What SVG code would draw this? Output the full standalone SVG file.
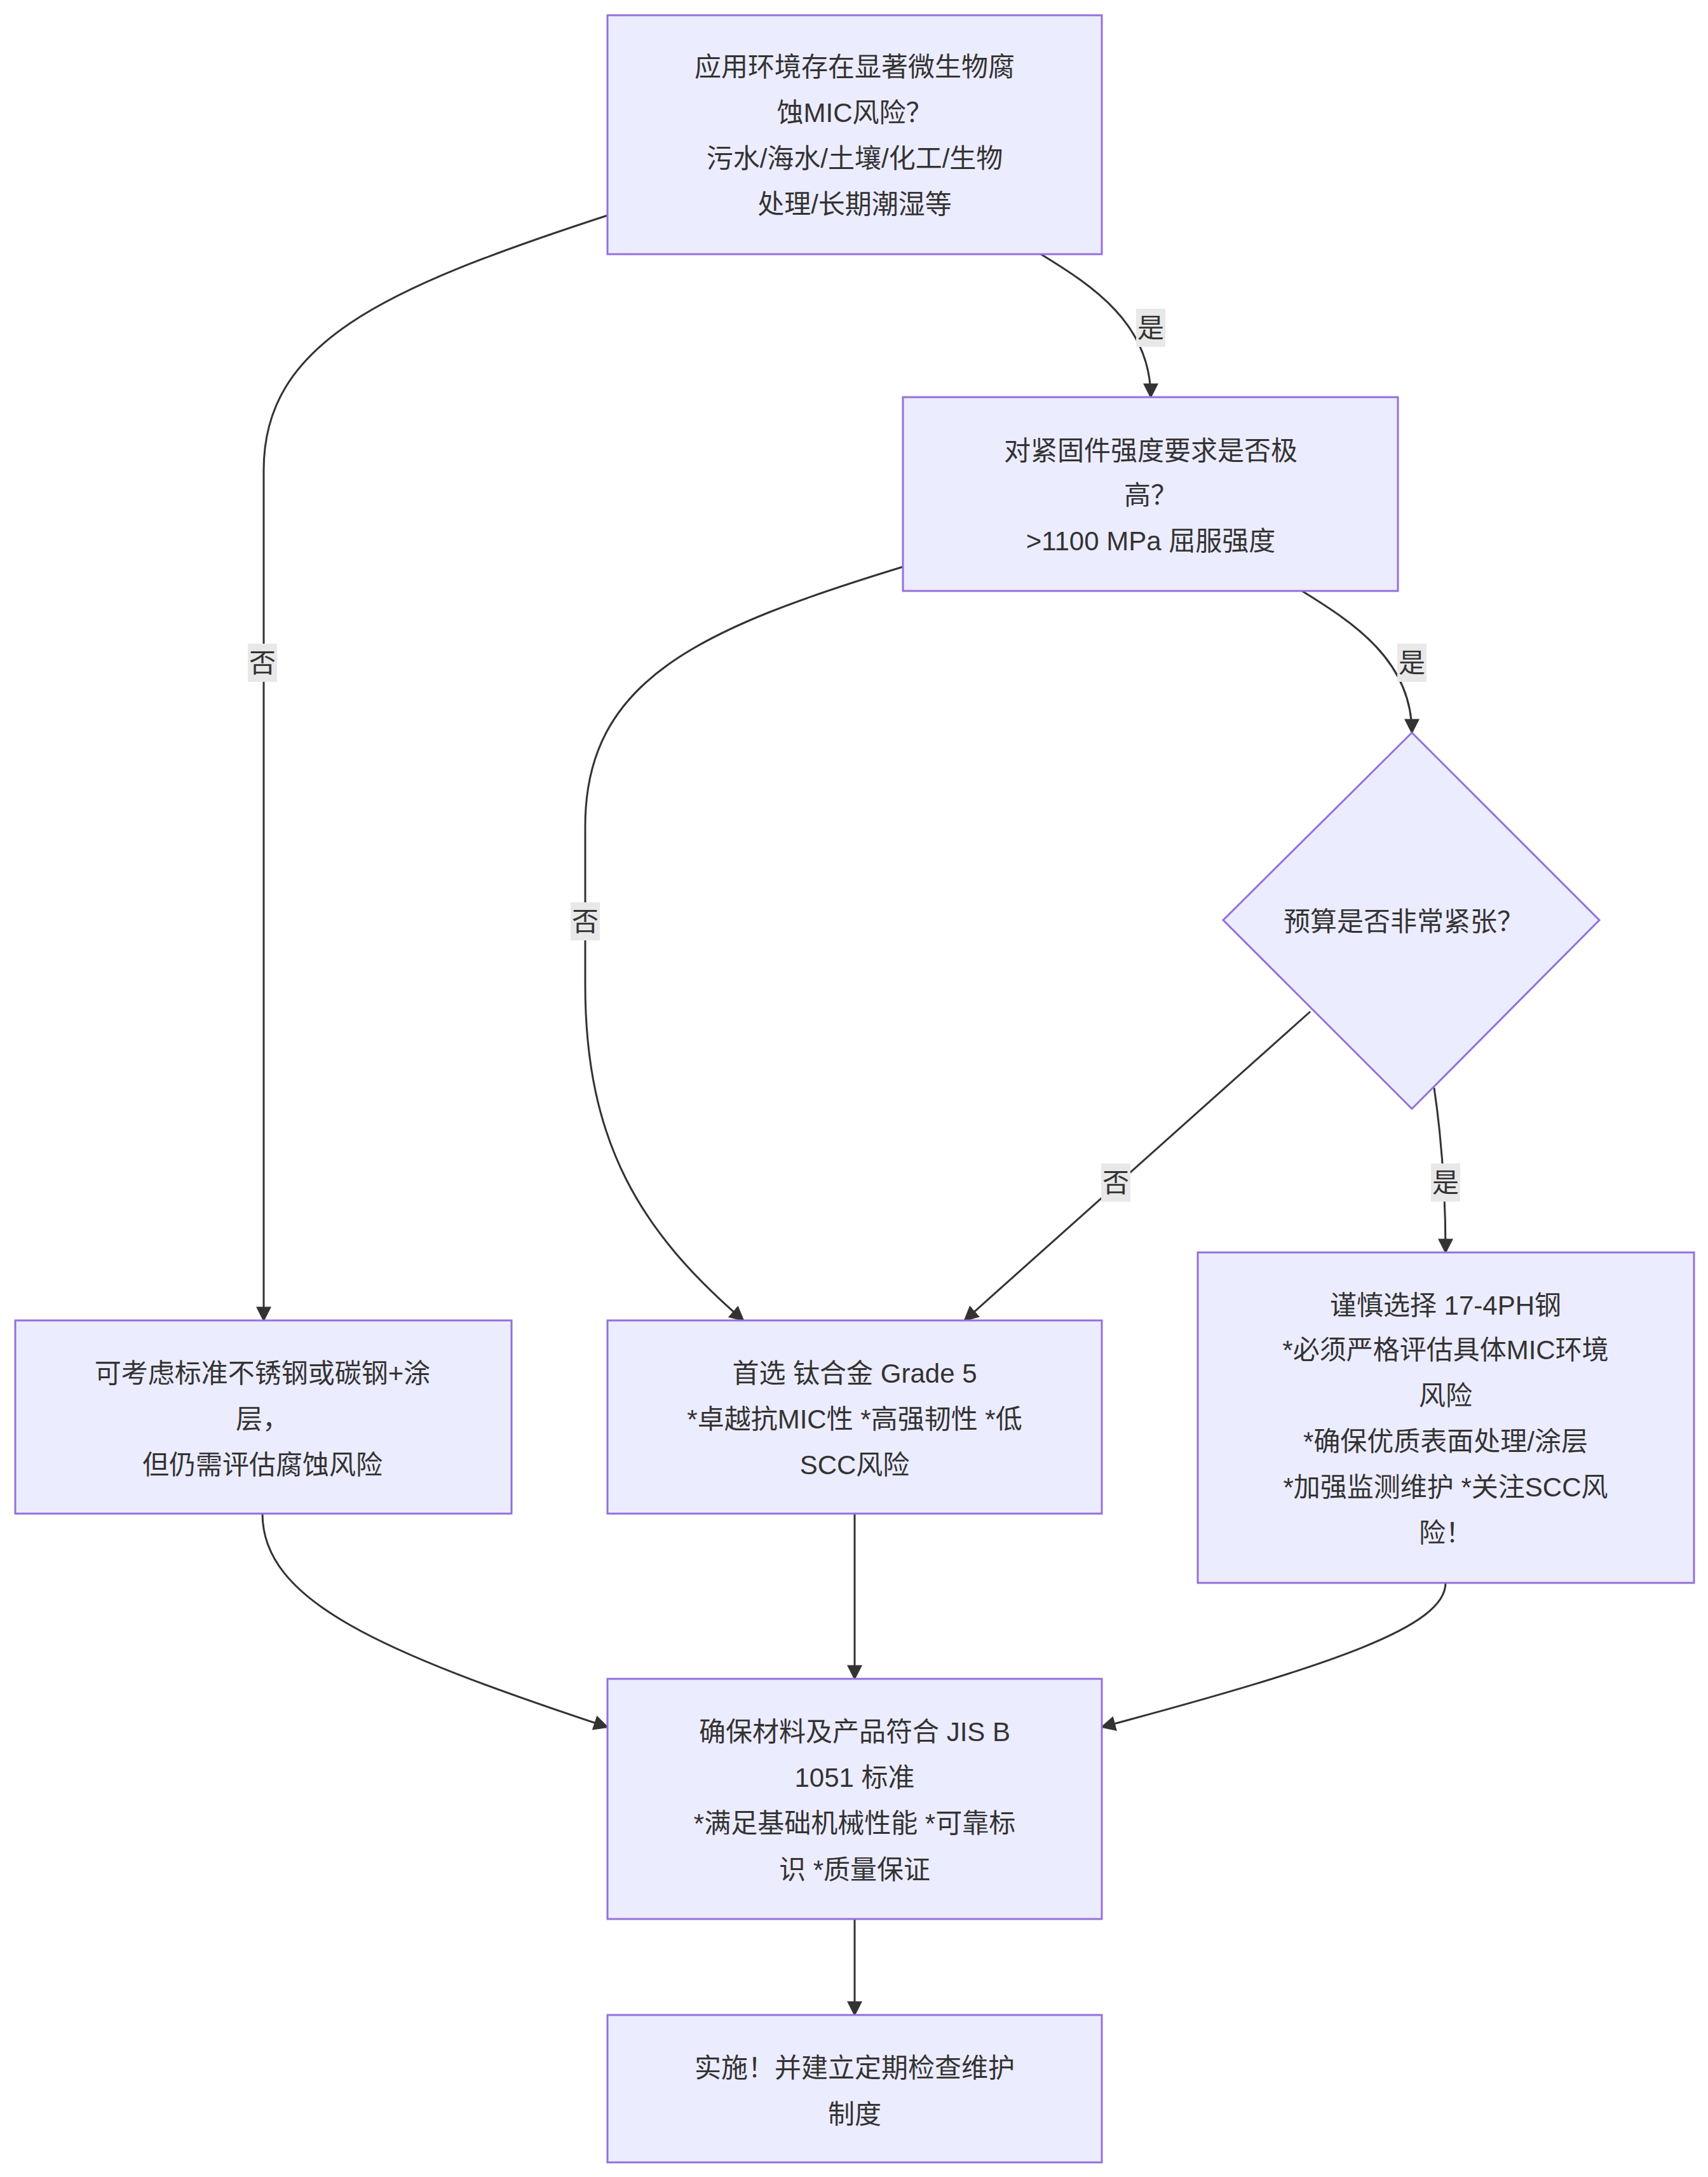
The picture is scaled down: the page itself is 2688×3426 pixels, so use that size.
<svg xmlns="http://www.w3.org/2000/svg" width="2688" height="3426" viewBox="0 0 2688 3426">
<style>
.n{fill:#ECECFF;stroke:#9370DB;stroke-width:3}
.t{font-family:"Liberation Sans","Noto Sans CJK SC",sans-serif;font-size:42px;fill:#333;text-anchor:middle;dominant-baseline:central}
.e{fill:none;stroke:#333;stroke-width:3;marker-end:url(#a)}
.lb{fill:#e8e8e8}
</style>
<defs><marker id="a" viewBox="0 0 10 10" refX="9" refY="5" markerWidth="8" markerHeight="8" markerUnits="userSpaceOnUse" orient="auto"><path d="M0,0L10,5L0,10z" fill="#333"/></marker>
<marker id="a2" viewBox="0 0 10 10" refX="9" refY="5" markerWidth="8" markerHeight="8" orient="auto"><path d="M0,0L10,5L0,10z" fill="#333"/></marker></defs>
<rect width="2688" height="3426" fill="#fff"/>
<g id="edges">
<path class="e" style="marker-end:url(#a2)" d="M1638,400 C1720,450 1811,510 1811,625"/>
<path class="e" style="marker-end:url(#a2)" d="M956,339 C600,455 415,540 415,740 L415,2078"/>
<path class="e" style="marker-end:url(#a2)" d="M2049,930 C2130,980 2222,1040 2222,1153"/>
<path class="e" style="marker-end:url(#a2)" d="M1421,892 C1100,990 921,1070 921,1300 L921,1550 C921,1800 1010,1940 1170,2078"/>
<path class="e" style="marker-end:url(#a2)" d="M2062,1592 L1518,2078"/>
<path class="e" style="marker-end:url(#a2)" d="M2257,1712 C2270,1800 2275,1880 2275,1971"/>
<path class="e" style="marker-end:url(#a2)" d="M413,2382 C413,2520 600,2600 956,2718"/>
<path class="e" style="marker-end:url(#a2)" d="M1345,2382 L1345,2642"/>
<path class="e" style="marker-end:url(#a2)" d="M2275,2491 C2275,2560 2100,2620 1734,2718"/>
<path class="e" style="marker-end:url(#a2)" d="M1345,3020 L1345,3171"/>
<rect class="lb" x="1788" y="486" width="46" height="60"/><text class="t" x="1811" y="516">是</text>
<rect class="lb" x="390" y="1013" width="46" height="60"/><text class="t" x="413" y="1043">否</text>
<rect class="lb" x="2199" y="1013" width="46" height="60"/><text class="t" x="2222" y="1043">是</text>
<rect class="lb" x="898" y="1420" width="46" height="60"/><text class="t" x="921" y="1450">否</text>
<rect class="lb" x="1733" y="1831" width="46" height="60"/><text class="t" x="1756" y="1861">否</text>
<rect class="lb" x="2252" y="1831" width="46" height="60"/><text class="t" x="2275" y="1861">是</text>
</g>
<g id="A"><rect class="n" x="956" y="24" width="778" height="376"/>
<text class="t" x="1345" y="105">应用环境存在显著微生物腐</text><text class="t" x="1345" y="177">蚀MIC风险？</text><text class="t" x="1345" y="249">污水/海水/土壤/化工/生物</text><text class="t" x="1345" y="321">处理/长期潮湿等</text></g>
<g id="B"><rect class="n" x="1421" y="625" width="779" height="305"/>
<text class="t" x="1811" y="709">对紧固件强度要求是否极</text><text class="t" x="1811" y="779">高？</text><text class="t" x="1811" y="851">&gt;1100 MPa 屈服强度</text></g>
<g id="C"><polygon class="n" points="2222,1153 2517,1448 2222,1745 1925,1448"/>
<text class="t" x="2209" y="1450">预算是否非常紧张？</text></g>
<g id="D"><rect class="n" x="24" y="2078" width="781" height="304"/>
<text class="t" x="413" y="2161">可考虑标准不锈钢或碳钢+涂</text><text class="t" x="413" y="2233">层，</text><text class="t" x="413" y="2305">但仍需评估腐蚀风险</text></g>
<g id="E"><rect class="n" x="956" y="2078" width="778" height="304"/>
<text class="t" x="1345" y="2161">首选 钛合金 Grade 5</text><text class="t" x="1345" y="2233">*卓越抗MIC性 *高强韧性 *低</text><text class="t" x="1345" y="2305">SCC风险</text></g>
<g id="F"><rect class="n" x="1885" y="1971" width="781" height="520"/>
<text class="t" x="2275" y="2054">谨慎选择 17-4PH钢</text><text class="t" x="2275" y="2124">*必须严格评估具体MIC环境</text><text class="t" x="2275" y="2196">风险</text><text class="t" x="2275" y="2268">*确保优质表面处理/涂层</text><text class="t" x="2275" y="2340">*加强监测维护 *关注SCC风</text><text class="t" x="2275" y="2412">险！</text></g>
<g id="G"><rect class="n" x="956" y="2642" width="778" height="378"/>
<text class="t" x="1345" y="2725">确保材料及产品符合 JIS B</text><text class="t" x="1345" y="2797">1051 标准</text><text class="t" x="1345" y="2869">*满足基础机械性能 *可靠标</text><text class="t" x="1345" y="2942">识 *质量保证</text></g>
<g id="H"><rect class="n" x="956" y="3171" width="778" height="232"/>
<text class="t" x="1345" y="3254">实施！并建立定期检查维护</text><text class="t" x="1345" y="3327">制度</text></g>
</svg>
